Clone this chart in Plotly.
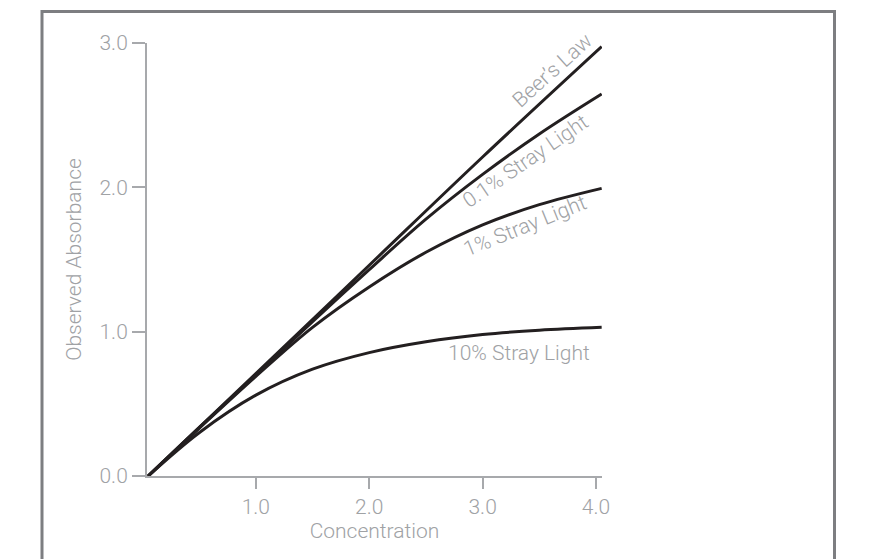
import plotly.graph_objects as go

# Concentration values where each curve was sampled
conc_beer = [0.05, 1.0, 2.0, 3.0, 4.05]
abs_beer = [0.0, 0.71, 1.46, 2.21, 2.975]

conc_stray = [0.05, 0.5, 1.0, 1.5, 2.0, 2.5, 3.0, 3.5, 4.05]
abs_stray_01 = [0.0, 0.335, 0.70, 1.07, 1.43, 1.78, 2.09, 2.37, 2.647]
abs_stray_1 = [0.0, 0.33, 0.69, 1.03, 1.31, 1.55, 1.74, 1.88, 1.993]
abs_stray_10 = [0.0, 0.30, 0.56, 0.74, 0.855, 0.93, 0.98, 1.01, 1.03]

x_ticks = [1.0, 2.0, 3.0, 4.0]
x_tick_text = ["1.0", "2.0", "3.0", "4.0"]
y_ticks = [0.0, 1.0, 2.0, 3.0]
y_tick_text = ["0.0", "1.0", "2.0", "3.0"]

curve_labels = ["Beer\u2019s Law", "0.1% Stray Light", "1% Stray Light", "10% Stray Light"]

W, H = 881, 559
ML, MR, MT, MB = 147, 279, 43, 83
X_RANGE = [0.04, 4.053]
Y_RANGE = [0.0, 3.0]

LINE_COLOR = "#231f20"
TEXT_COLOR = "#a0a2a5"
AXIS_COLOR = "#a7a9ac"
FRAME_COLOR = "#7d7e81"
FONT = "Roboto, 'Noto Sans', sans-serif"
FONT_SIZE = 21

fig = go.Figure()
for xs, ys in [
    (conc_beer, abs_beer),
    (conc_stray, abs_stray_01),
    (conc_stray, abs_stray_1),
    (conc_stray, abs_stray_10),
]:
    fig.add_trace(go.Scatter(
        x=xs, y=ys, mode="lines",
        line=dict(color=LINE_COLOR, width=3, shape="spline", smoothing=1.0),
        hoverinfo="skip", showlegend=False,
    ))

# Curve labels, rotated to follow their lines
label_specs = [
    (curve_labels[0], 3.618, 2.813, -42),
    (curve_labels[1], 3.381, 2.182, -34.5),
    (curve_labels[2], 3.372, 1.732, -22),
    (curve_labels[3], 3.319, 0.854, 0),
]
for text, xa, ya, ang in label_specs:
    fig.add_annotation(
        x=xa, y=ya, xref="x", yref="y", text=text, showarrow=False,
        textangle=ang, xanchor="center", yanchor="middle",
        font=dict(family=FONT, size=FONT_SIZE, color=TEXT_COLOR, weight=300),
    )

# Outer grey frame (open at the bottom edge of the page)
plot_w = W - ML - MR
plot_h = H - MT - MB
def px_to_paper_x(px):
    return (px - ML) / plot_w
def px_to_paper_y(py):
    return (H - MB - py) / plot_h

fig.add_shape(
    type="rect", xref="paper", yref="paper",
    x0=px_to_paper_x(42), x1=px_to_paper_x(834.5),
    y0=px_to_paper_y(580), y1=px_to_paper_y(11.5),
    line=dict(color=FRAME_COLOR, width=3), fillcolor="rgba(0,0,0,0)",
    layer="below",
)

axis_common = dict(
    showgrid=False, zeroline=False, showline=True,
    linecolor=AXIS_COLOR, linewidth=2,
    ticks="outside", tickcolor=AXIS_COLOR, tickwidth=1.5,
    tickfont=dict(family=FONT, size=FONT_SIZE, color=TEXT_COLOR, weight=300),
    title_font=dict(family=FONT, size=FONT_SIZE, color=TEXT_COLOR, weight=300),
    fixedrange=True,
)

fig.update_xaxes(
    range=X_RANGE, tickvals=x_ticks, ticktext=x_tick_text, ticklen=11,
    title_text="Concentration", title_standoff=4, **axis_common,
)
fig.update_yaxes(
    range=Y_RANGE, tickvals=y_ticks, ticktext=y_tick_text, ticklen=13,
    title_text="Observed Absorbance", title_standoff=12, **axis_common,
)

fig.update_layout(
    width=W, height=H,
    margin=dict(l=ML, r=MR, t=MT, b=MB, autoexpand=False),
    paper_bgcolor="white", plot_bgcolor="white",
    font=dict(family=FONT, color=TEXT_COLOR),
)

fig.write_html("out.html", config={"displayModeBar": False})
